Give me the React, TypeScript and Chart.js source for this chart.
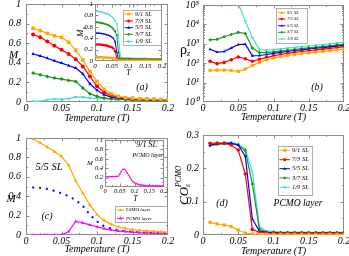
import React, { useEffect, useRef } from "react";
import { Chart, registerables } from "chart.js";
Chart.register(...registerables);

const FONT = "'Liberation Serif', 'Times New Roman', serif";
const FRAME = "#8c8c8c";

// ---------- data ----------
const T20 = [0.01, 0.02, 0.03, 0.04, 0.05, 0.06, 0.07, 0.08, 0.09, 0.1, 0.11, 0.12, 0.13, 0.14, 0.15, 0.16, 0.17, 0.18, 0.19, 0.2];
const T40 = [0.005, 0.01, 0.015, 0.02, 0.025, 0.03, 0.035, 0.04, 0.045, 0.05, 0.055, 0.06, 0.065, 0.07, 0.075, 0.08, 0.085, 0.09, 0.095, 0.1,
  0.105, 0.11, 0.115, 0.12, 0.125, 0.13, 0.135, 0.14, 0.145, 0.15, 0.155, 0.16, 0.165, 0.17, 0.175, 0.18, 0.185, 0.19, 0.195, 0.2];

const SERIES = ["9/1 SL", "7/3 SL", "5/5 SL", "3/7 SL", "1/9 SL"];
const COLORS = ["#ffa500", "#ff0000", "#0000ff", "#1a961a", "#3fe0d0"];
const STYLES = ["rect", "circle", "triangle", "rectRot", "triangleDown"];

// (a) magnetization
const A_91 = [0.753, 0.729, 0.70, 0.675, 0.66, 0.61, 0.53, 0.43, 0.31, 0.21, 0.13, 0.085, 0.058, 0.044, 0.037, 0.032, 0.03, 0.027, 0.024, 0.024];
const A_73 = [0.69, 0.66, 0.617, 0.573, 0.532, 0.49, 0.437, 0.363, 0.26, 0.16, 0.098, 0.068, 0.05, 0.04, 0.035, 0.03, 0.028, 0.025, 0.023, 0.02];
const A_55 = [0.49, 0.47, 0.447, 0.42, 0.397, 0.373, 0.346, 0.288, 0.186, 0.119, 0.075, 0.05, 0.04, 0.033, 0.028, 0.025, 0.022, 0.02, 0.018, 0.017];
const A_37 = [0.295, 0.278, 0.26, 0.244, 0.234, 0.22, 0.21, 0.142, 0.085, 0.058, 0.04, 0.032, 0.027, 0.023, 0.02, 0.018, 0.016, 0.015, 0.014, 0.013];
const A_19 = [0.007, 0.007, 0.024, 0.03, 0.03, 0.034, 0.05, 0.05, 0.04, 0.037, 0.034, 0.03, 0.028, 0.026, 0.025, 0.024, 0.023, 0.022, 0.022, 0.021];

// (a) inset: staggered magnetization M_s
const AS_91 = [0.065, 0.065, 0.065, 0.065, 0.062, 0.06, 0.06, 0.057, 0.055, 0.052, 0.048, 0.042, 0.03, 0.015, 0.01, 0.008,
  0.008, 0.008, 0.008, 0.008, 0.008, 0.008, 0.008, 0.008, 0.008, 0.008, 0.008, 0.008, 0.008, 0.008, 0.008, 0.008, 0.008, 0.008, 0.008, 0.008, 0.008, 0.008, 0.008, 0.008];
const AS_73 = [0.29, 0.29, 0.29, 0.285, 0.28, 0.275, 0.27, 0.26, 0.25, 0.24, 0.22, 0.17, 0.05, 0.015, 0.012, 0.011,
  0.011, 0.011, 0.01, 0.01, 0.01, 0.01, 0.01, 0.01, 0.01, 0.01, 0.01, 0.01, 0.01, 0.01, 0.01, 0.01, 0.01, 0.01, 0.01, 0.01, 0.01, 0.01, 0.01, 0.01];
const AS_55 = [0.49, 0.49, 0.485, 0.48, 0.475, 0.47, 0.46, 0.45, 0.44, 0.42, 0.40, 0.34, 0.15, 0.03, 0.025, 0.022,
  0.022, 0.021, 0.021, 0.021, 0.02, 0.02, 0.02, 0.02, 0.02, 0.02, 0.019, 0.019, 0.019, 0.019, 0.019, 0.018, 0.018, 0.018, 0.018, 0.018, 0.018, 0.017, 0.017, 0.017];
const AS_37 = [0.68, 0.675, 0.67, 0.665, 0.66, 0.65, 0.64, 0.63, 0.61, 0.59, 0.56, 0.52, 0.45, 0.15, 0.04, 0.035,
  0.035, 0.034, 0.034, 0.033, 0.033, 0.033, 0.032, 0.032, 0.032, 0.031, 0.031, 0.031, 0.031, 0.03, 0.03, 0.03, 0.03, 0.03, 0.029, 0.029, 0.029, 0.029, 0.028, 0.028];
const AS_19 = [0.875, 0.87, 0.865, 0.86, 0.85, 0.84, 0.83, 0.82, 0.80, 0.78, 0.75, 0.71, 0.65, 0.45, 0.10, 0.05,
  0.05, 0.05, 0.048, 0.048, 0.047, 0.047, 0.046, 0.046, 0.045, 0.045, 0.045, 0.044, 0.044, 0.044, 0.043, 0.043, 0.043, 0.042, 0.042, 0.042, 0.041, 0.041, 0.041, 0.04];

// (b) resistivity rho_z
const B_91 = [42, 44, 44, 42, 38, 50, 75, 110, 150, 185, 220, 250, 280, 310, 340, 370, 400, 440, 490, 540];
const B_73 = [125, 95, 110, 150, 210, 170, 125, 160, 195, 240, 280, 320, 360, 400, 440, 480, 530, 580, 640, 710];
const B_55 = [520, 370, 400, 600, 920, 950, 240, 250, 280, 320, 360, 400, 450, 490, 540, 590, 640, 700, 760, 820];
const B_37 = [1600, 1700, 2300, 3000, 3900, 3400, 600, 350, 360, 380, 420, 460, 510, 560, 610, 660, 720, 790, 860, 950];
const B_19 = [null, null, null, null, 120000, 15000, 2100, 500, 480, 500, 550, 600, 650, 710, 770, 840, 910, 990, 1080, 1200];

// (c) 5/5 SL layer magnetization
const C_LSMO = [0.99, 0.95, 0.905, 0.86, 0.81, 0.72, 0.56, 0.43, 0.31, 0.21, 0.15, 0.11, 0.085, 0.068, 0.056, 0.048, 0.042, 0.037, 0.033, 0.03];
const C_PCMO = [0, 0, 0, 0, 0, 0.035, 0.14, 0.125, 0.105, 0.085, 0.065, 0.05, 0.04, 0.035, 0.03, 0.025, 0.022, 0.02, 0.02, 0.018];
const C_TOTAL = [0.49, 0.485, 0.475, 0.455, 0.43, 0.40, 0.36, 0.30, 0.21, 0.14, 0.09, 0.066, 0.05, 0.04, 0.032, 0.026, 0.022, 0.02, 0.018, 0.016];
// (c) inset: 9/1 SL PCMO layer
const CI_PCMO = [0.22, 0.22, 0.22, 0.22, 0.22, 0.22, 0.222, 0.225, 0.23, 0.27, 0.33, 0.375, 0.38, 0.35, 0.30, 0.25, 0.20, 0.15, 0.115, 0.09,
  0.075, 0.06, 0.052, 0.046, 0.04, 0.036, 0.033, 0.03, 0.028, 0.027, 0.026, 0.025, 0.024, 0.023, 0.022, 0.022, 0.021, 0.021, 0.02, 0.02];

// (d) PCMO layer charge order
const D_91 = [0.038, 0.033, 0.03, 0.025, 0.015, 0.006, 0.003, 0.002, 0.002, 0.002, 0.002, 0.002, 0.002, 0.002, 0.002, 0.002, 0.002, 0.002, 0.002, 0.002];
const D_73 = [0.275, 0.276, 0.275, 0.27, 0.255, 0.183, 0.017, 0.008, 0.006, 0.005, 0.005, 0.005, 0.005, 0.005, 0.005, 0.005, 0.005, 0.005, 0.005, 0.005];
const D_55 = [0.27, 0.273, 0.275, 0.275, 0.27, 0.236, 0.048, 0.012, 0.008, 0.007, 0.006, 0.006, 0.006, 0.006, 0.006, 0.006, 0.006, 0.006, 0.006, 0.006];
const D_37 = [0.268, 0.272, 0.274, 0.275, 0.27, 0.253, 0.153, 0.018, 0.009, 0.008, 0.007, 0.007, 0.007, 0.007, 0.007, 0.007, 0.007, 0.007, 0.007, 0.007];
const D_19 = [0.27, 0.275, 0.278, 0.278, 0.273, 0.258, 0.19, 0.026, 0.012, 0.01, 0.009, 0.009, 0.009, 0.009, 0.008, 0.008, 0.008, 0.008, 0.008, 0.008];

// ticks
const T_TICKS = [0, 0.05, 0.1, 0.15, 0.2];
const T_MINOR = [0.025, 0.075, 0.125, 0.175];
const M_TICKS = [0, 0.2, 0.4, 0.6, 0.8, 1];
const M_MINOR = [0.1, 0.3, 0.5, 0.7, 0.9];
const CO_TICKS = [0, 0.1, 0.2, 0.3];
const CO_MINOR = [0.05, 0.15, 0.25];
const RHO_TICKS = [1, 10, 100, 1000, 10000, 100000];
const RHO_LABELS = ["10\u2070", "10\u00b9", "10\u00b2", "10\u00b3", "10\u2074", "10\u2075"];
const RHO_MINOR: number[] = [];
[1, 10, 100, 1000, 10000].forEach((d) => [2, 3, 4, 5, 6, 7, 8, 9].forEach((k) => RHO_MINOR.push(d * k)));

// ---------- helpers ----------
type Seg = { t: string; size: number; dy?: number; italic?: boolean; stay?: boolean };
type TextItem = { x: number; y: number; segs: Seg[]; align?: "left" | "center"; rot?: number };
type LegendCfg = { box: number[]; rows: number[]; line: number[]; textX: number; size: number; r: number };
type Axis = { type?: string; min: number; max: number; ticks: number[]; minor: number[]; size: number; pad: number; labels?: string[] };
type Panel = { box: number[]; plot: number[]; x: Axis; y: Axis; datasets: any[]; texts: TextItem[]; legend?: LegendCfg };

const fmt = (v: number) => String(Math.round(v * 1000) / 1000);

function ds(label: string, xs: number[], ys: (number | null)[], color: string, style: string, r: number, bw: number, extra: any = {}) {
  return {
    label,
    data: xs.map((x, i) => ({ x, y: ys[i] })),
    borderColor: color,
    backgroundColor: color,
    pointBackgroundColor: color,
    pointBorderColor: color,
    pointBorderWidth: 0,
    pointStyle: style === "triangleDown" ? "triangle" : style,
    pointRotation: style === "triangleDown" ? 180 : 0,
    pointRadius: style === "rect" ? r * 1.25 : r,
    borderWidth: bw,
    tension: 0,
    spanGaps: false,
    mk: style,
    ...extra,
  };
}

function drawMarker(ctx: CanvasRenderingContext2D, style: string, x: number, y: number, r: number, color: string) {
  ctx.fillStyle = color;
  ctx.beginPath();
  if (style === "rect") {
    const s = r * 0.9;
    ctx.rect(x - s, y - s, 2 * s, 2 * s);
  } else if (style === "circle") {
    ctx.arc(x, y, r, 0, Math.PI * 2);
  } else if (style === "triangle" || style === "triangleDown") {
    const d = style === "triangleDown" ? -1 : 1;
    ctx.moveTo(x, y - d * r * 1.1);
    ctx.lineTo(x - r, y + d * r * 0.7);
    ctx.lineTo(x + r, y + d * r * 0.7);
    ctx.closePath();
  } else {
    ctx.moveTo(x, y - r);
    ctx.lineTo(x + r, y);
    ctx.lineTo(x, y + r);
    ctx.lineTo(x - r, y);
    ctx.closePath();
  }
  ctx.fill();
}

function drawRich(ctx: CanvasRenderingContext2D, it: TextItem, ox: number, oy: number) {
  ctx.save();
  ctx.translate(it.x - ox, it.y - oy);
  if (it.rot) ctx.rotate((it.rot * Math.PI) / 180);
  ctx.textBaseline = "middle";
  ctx.textAlign = "left";
  ctx.fillStyle = "#000";
  const f = (s: Seg) => `${s.italic === false ? "" : "italic "}${s.size}px ${FONT}`;
  let total = 0;
  for (const s of it.segs) {
    ctx.font = f(s);
    if (!s.stay) total += ctx.measureText(s.t).width;
  }
  let x = it.align === "center" ? -total / 2 : 0;
  for (const s of it.segs) {
    ctx.font = f(s);
    ctx.fillText(s.t, x, s.dy || 0);
    if (!s.stay) x += ctx.measureText(s.t).width;
  }
  ctx.restore();
}

function makePlugins(p: Panel) {
  const [ox, oy] = p.box;
  return [
    {
      id: "frame",
      beforeDatasetsDraw(chart: any) {
        const { ctx, chartArea: a, scales } = chart;
        const L = Math.round(a.left) + 0.5, R = Math.round(a.right) - 0.5;
        const T = Math.round(a.top) + 0.5, B = Math.round(a.bottom) - 0.5;
        ctx.save();
        ctx.strokeStyle = FRAME;
        ctx.lineWidth = 1;
        ctx.strokeRect(L, T, R - L, B - T);
        ctx.beginPath();
        const xt = (vals: number[], len: number) => vals.forEach((v) => {
          if (v <= p.x.min || v >= p.x.max) return;
          const px = Math.round(scales.x.getPixelForValue(v)) + 0.5;
          ctx.moveTo(px, B); ctx.lineTo(px, B - len);
          ctx.moveTo(px, T); ctx.lineTo(px, T + len);
        });
        const yt = (vals: number[], len: number) => vals.forEach((v) => {
          if (v <= p.y.min || v >= p.y.max) return;
          const py = Math.round(scales.y.getPixelForValue(v)) + 0.5;
          ctx.moveTo(L, py); ctx.lineTo(L + len, py);
          ctx.moveTo(R, py); ctx.lineTo(R - len, py);
        });
        xt(p.x.ticks, 3); xt(p.x.minor, 1.5);
        yt(p.y.ticks, 3); yt(p.y.minor, 1.5);
        ctx.stroke();
        ctx.restore();
      },
    },
    {
      id: "texts",
      afterDraw(chart: any) {
        const ctx = chart.ctx;
        for (const it of p.texts) drawRich(ctx, it, ox, oy);
        const Lg = p.legend;
        if (!Lg) return;
        ctx.save();
        ctx.translate(-ox, -oy);
        const [bx, by, bw, bh] = Lg.box;
        ctx.fillStyle = "#fff";
        ctx.fillRect(bx, by, bw, bh);
        ctx.strokeStyle = "#9a9a9a";
        ctx.lineWidth = 0.8;
        ctx.strokeRect(bx + 0.5, by + 0.5, bw, bh);
        const items = p.datasets.filter((d) => d.inLegend !== false);
        items.forEach((d, i) => {
          const y = Lg.rows[i];
          ctx.strokeStyle = d.borderColor;
          ctx.lineWidth = 1;
          ctx.beginPath();
          ctx.moveTo(Lg.line[0], y);
          ctx.lineTo(Lg.line[1], y);
          ctx.stroke();
          drawMarker(ctx, d.mk, (Lg.line[0] + Lg.line[1]) / 2, y, Lg.r, d.borderColor);
          ctx.fillStyle = "#000";
          ctx.font = `italic ${Lg.size}px ${FONT}`;
          ctx.textBaseline = "middle";
          ctx.textAlign = "left";
          ctx.fillText(d.label, Lg.textX, y);
        });
        ctx.restore();
      },
    },
  ];
}

function PanelChart({ p }: { p: Panel }) {
  const ref = useRef<HTMLCanvasElement>(null);
  const [cl, ct, cw, ch] = p.box;
  useEffect(() => {
    const [pl, pt, pr, pb] = p.plot;
    const lx = pl - cl, tx = pt - ct, rx = pr - cl, bx = pb - ct;
    const tickFont = (size: number) => ({ family: FONT, style: "italic" as const, size });
    const chart = new Chart(ref.current!, {
      type: "line",
      data: { datasets: p.datasets },
      options: {
        animation: false,
        responsive: false,
        maintainAspectRatio: false,
        devicePixelRatio: 1,
        events: [],
        layout: { padding: { left: 0, top: tx, right: cw - rx, bottom: 0 } },
        plugins: { legend: { display: false }, tooltip: { enabled: false } },
        scales: {
          x: {
            type: "linear",
            min: p.x.min,
            max: p.x.max,
            afterBuildTicks: (s: any) => { s.ticks = p.x.ticks.map((v) => ({ value: v })); },
            afterFit: (s: any) => { s.height = ch - bx; s.paddingLeft = 0; s.paddingRight = 0; },
            grid: { display: false, drawTicks: false },
            border: { display: false },
            ticks: {
              autoSkip: false, maxRotation: 0, minRotation: 0, padding: p.x.pad, color: "#000",
              font: tickFont(p.x.size),
              callback: (v: any) => fmt(Number(v)),
            },
          },
          y: {
            type: (p.y.type || "linear") as any,
            min: p.y.min,
            max: p.y.max,
            afterBuildTicks: (s: any) => { s.ticks = p.y.ticks.map((v) => ({ value: v })); },
            afterFit: (s: any) => { s.width = lx; s.paddingTop = 0; s.paddingBottom = 0; },
            grid: { display: false, drawTicks: false },
            border: { display: false },
            ticks: {
              autoSkip: false, padding: p.y.pad, color: "#000",
              font: tickFont(p.y.size),
              callback: (v: any, i: number) => (p.y.labels ? p.y.labels[i] : fmt(Number(v))),
            },
          },
        },
      } as any,
      plugins: makePlugins(p) as any,
    });
    return () => chart.destroy();
  }, []);
  return (
    <canvas
      ref={ref}
      width={cw}
      height={ch}
      style={{ position: "absolute", left: cl, top: ct, width: cw, height: ch, display: "block" }}
    />
  );
}

// ---------- panels ----------
const title = (x: number, y: number, t: string, size: number, extra: Partial<TextItem> = {}): TextItem => ({
  x, y, segs: [{ t, size }], align: "center", ...extra,
});

const A_SETS = [A_91, A_73, A_55, A_37, A_19];
const AS_SETS = [AS_91, AS_73, AS_55, AS_37, AS_19];
const B_SETS = [B_91, B_73, B_55, B_37, B_19];
const D_SETS = [D_91, D_73, D_55, D_37, D_19];

const PANEL_A: Panel = {
  box: [0, 0, 175, 128],
  plot: [26, 4, 168, 102],
  x: { min: 0, max: 0.2, ticks: T_TICKS, minor: T_MINOR, size: 10, pad: 0 },
  y: { min: 0, max: 1, ticks: M_TICKS, minor: M_MINOR, size: 10, pad: 5 },
  datasets: SERIES.map((s, i) => ds(s, T20, A_SETS[i], COLORS[i], STYLES[i], 2, 1.2)),
  texts: [title(13.5, 55, "M", 11), title(97, 118, "Temperature (T)", 10), title(142, 87, "(a)", 10)],
};

const PANEL_A_IN: Panel = {
  box: [72, 0, 96, 80],
  plot: [95, 4, 162, 61],
  x: { min: 0, max: 0.2, ticks: T_TICKS, minor: T_MINOR, size: 7, pad: 1 },
  y: { min: 0, max: 1, ticks: M_TICKS, minor: M_MINOR, size: 7, pad: 2 },
  datasets: SERIES.map((s, i) => ds(s, T40, AS_SETS[i], COLORS[i], STYLES[i], 1.3, 1)),
  texts: [
    { x: 81, y: 37, rot: -90, segs: [{ t: "M", size: 9 }, { t: "s", size: 6, dy: 3 }] },
    title(128.5, 73, "T", 8),
  ],
  legend: { box: [123, 10, 38, 35], rows: [14, 21, 27.7, 34.3, 41.5], line: [124.5, 133], textX: 135, size: 6.5, r: 1.5 },
};

const PANEL_B: Panel = {
  box: [175, 0, 174, 128],
  plot: [203, 5, 344, 102],
  x: { min: 0, max: 0.2, ticks: T_TICKS, minor: T_MINOR, size: 10, pad: 0 },
  y: { type: "logarithmic", min: 1, max: 100000, ticks: RHO_TICKS, minor: RHO_MINOR, size: 10, pad: 4, labels: RHO_LABELS },
  datasets: SERIES.map((s, i) => ds(s, T20, B_SETS[i], COLORS[i], STYLES[i], 1.8, 1.2)),
  texts: [
    { x: 180, y: 50, segs: [{ t: "\u03c1", size: 14, italic: false }, { t: "z", size: 8, dy: 4 }] },
    title(273.5, 117, "Temperature (T)", 10),
    title(317, 87, "(b)", 10),
  ],
  legend: { box: [276, 8, 31, 35], rows: [12.7, 19, 25.7, 32.3, 39], line: [278, 285.5], textX: 287, size: 4.5, r: 1.2 },
};

const PANEL_C: Panel = {
  box: [0, 128, 175, 128],
  plot: [26, 138, 168, 235],
  x: { min: 0, max: 0.2, ticks: T_TICKS, minor: T_MINOR, size: 10, pad: 0 },
  y: { min: 0, max: 1, ticks: M_TICKS, minor: M_MINOR, size: 10, pad: 5 },
  datasets: [
    ds("LSMO layer", T20, C_LSMO, "#ffa500", "triangle", 2.1, 1.2),
    ds("PCMO layer", T20, C_PCMO, "#ff00ff", "triangle", 1.9, 1.2),
    ds("5/5 SL total", T20, C_TOTAL, "#0000ff", "circle", 0, 2.2, {
      inLegend: false, borderDash: [0.1, 6.8], borderCapStyle: "round",
    }),
  ],
  texts: [
    title(11, 199, "M", 11),
    title(49, 167, "5/5 SL", 10.5),
    title(47, 216, "(c)", 10),
    title(97, 249, "Temperature (T)", 10),
  ],
  legend: { box: [115, 206, 52, 16], rows: [210, 218.3], line: [117, 124], textX: 126, size: 5, r: 1.6 },
};

const PANEL_C_IN: Panel = {
  box: [84, 128, 84, 75],
  plot: [105, 140, 166, 187],
  x: { min: 0, max: 0.2, ticks: T_TICKS, minor: T_MINOR, size: 6.5, pad: 0.5 },
  y: { min: 0, max: 1, ticks: M_TICKS, minor: M_MINOR, size: 6.5, pad: 2 },
  datasets: [ds("PCMO layer", T40, CI_PCMO, "#ff00ff", "triangle", 1.2, 1)],
  texts: [
    title(146.5, 145, "9/1 SL", 8),
    title(148, 155, "PCMO layer", 6),
    title(90, 163, "M", 7),
    title(135.5, 199, "T", 8),
  ],
};

const PANEL_D: Panel = {
  box: [175, 128, 174, 128],
  plot: [203, 135, 344, 235],
  x: { min: 0, max: 0.2, ticks: T_TICKS, minor: T_MINOR, size: 10, pad: 0 },
  y: { min: 0, max: 0.3, ticks: CO_TICKS, minor: CO_MINOR, size: 10, pad: 4 },
  datasets: SERIES.map((s, i) => ds(s, T20, D_SETS[i], COLORS[i], STYLES[i], 1.8, 1.2)),
  texts: [
    {
      x: 184.5, y: 205, rot: -90,
      segs: [{ t: "CO", size: 13 }, { t: "s", size: 7.5, dy: 4, stay: true }, { t: "PCMO", size: 7.5, dy: -5 }],
    },
    title(222, 203, "(d)", 10),
    title(298, 203, "PCMO layer", 9.5),
    title(273.5, 251, "Temperature (T)", 10),
  ],
  legend: { box: [278, 146, 34, 49], rows: [150.3, 159.7, 168.7, 178, 187.3], line: [279.5, 290], textX: 292, size: 6.5, r: 1.6 },
};

const PANELS = [PANEL_A, PANEL_B, PANEL_C, PANEL_D, PANEL_A_IN, PANEL_C_IN];

export default function App() {
  return (
    <div style={{ position: "fixed", left: 0, top: 0, width: 349, height: 256, background: "#fff", overflow: "hidden" }}>
      {PANELS.map((p, i) => (
        <PanelChart key={i} p={p} />
      ))}
    </div>
  );
}
